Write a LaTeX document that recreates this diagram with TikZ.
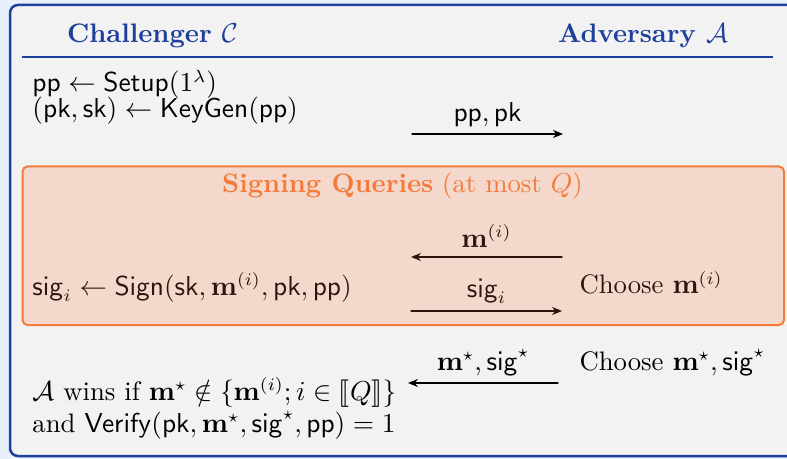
\documentclass[tikz,border=0pt]{standalone}
\usepackage{amsmath,amssymb,stmaryrd}
\usepackage{xcolor}
\definecolor{pagebg}{HTML}{E8F1FB}
\definecolor{gamebg}{HTML}{F2F2F2}
\definecolor{gameblue}{HTML}{1E3F9B}
\definecolor{queryorange}{HTML}{F47B3B}
\definecolor{querybg}{HTML}{F3D8CB}
\colorlet{querytext}{black!82!queryorange}
\usetikzlibrary{arrows.meta}
\newcommand{\alg}[1]{\mathsf{#1}}
\newcommand{\gamesize}{\fontsize{10.7}{12.8}\selectfont}

\begin{document}
\begin{tikzpicture}[x=0.4pt,y=-0.4pt,line cap=round,font=\gamesize,
  msg/.style={-{Stealth[length=4pt,width=3.2pt]},line width=0.5pt},
  role/.style={gameblue,font=\gamesize\bfseries,anchor=base,inner sep=0pt},
  txt/.style={anchor=base west,inner sep=0pt},
  lbl/.style={anchor=base,inner sep=0pt}]
  % page and game frame (frame runs past the right edge)
  \useasboundingbox (0,0) rectangle (787,459);
  \fill[pagebg] (0,0) rectangle (787,459);
  \begin{scope}
    \clip (0,0) rectangle (787,459);
    \draw[gameblue,fill=gamebg,line width=1pt,rounded corners=3.2pt]
      (10,5) rectangle (820,456);
  \end{scope}
  % header
  \node[role] (chal) at (152.5,43) {Challenger $\mathcal{C}$};
  \node[role] (adv) at (643,43) {Adversary $\mathcal{A}$};
  \draw[gameblue,line width=0.8pt,line cap=butt] (22,57) -- (773,57);
  % setup phase
  \node[txt] (setup) at (32,92) {$\alg{pp} \leftarrow \alg{Setup}(1^\lambda)$};
  \node[txt] (keygen) at (32,118) {$(\alg{pk},\alg{sk}) \leftarrow \alg{KeyGen}(\alg{pp})$};
  \coordinate (ppfrom) at (412,134);
  \coordinate (ppto) at (563,134);
  \draw[msg] (ppfrom) -- (ppto);
  \node[lbl] (pplbl) at (487.5,122) {$\alg{pp},\alg{pk}$};
  % signing queries
  \draw[queryorange,fill=querybg,line width=0.8pt,rounded corners=2pt]
    (22.5,166.5) rectangle (784,325);
  \node[lbl,queryorange] (qtitle) at (402.5,193)
    {\textbf{Signing Queries} (at most $Q$)};
  \coordinate (mfrom) at (562,257);
  \coordinate (mto) at (411,257);
  \draw[msg,querytext] (mfrom) -- (mto);
  \node[lbl,querytext] (mlbl) at (486.5,247) {$\mathbf{m}^{(i)}$};
  \node[txt,querytext] (sign) at (32,295)
    {$\alg{sig}_i \leftarrow \alg{Sign}(\alg{sk},\mathbf{m}^{(i)},\alg{pk},\alg{pp})$};
  \node[txt,querytext] (choosem) at (579,294) {Choose $\mathbf{m}^{(i)}$};
  \coordinate (sfrom) at (411,311);
  \coordinate (sto) at (562,311);
  \draw[msg,querytext] (sfrom) -- (sto);
  \node[lbl,querytext] (slbl) at (486.5,297) {$\alg{sig}_i$};
  % forgery
  \node[txt] (choosef) at (579,370) {Choose $\mathbf{m}^\star,\alg{sig}^\star$};
  \coordinate (ffrom) at (558,383);
  \coordinate (fto) at (408,383);
  \draw[msg] (ffrom) -- (fto);
  \node[lbl] (flbl) at (483,370) {$\mathbf{m}^\star,\alg{sig}^\star$};
  \node[txt] (wins) at (32,400)
    {$\mathcal{A}$ wins if $\mathbf{m}^\star \notin \{\mathbf{m}^{(i)}; i \in \llbracket Q \rrbracket\}$};
  \node[txt] (verify) at (32,432)
    {and $\alg{Verify}(\alg{pk},\mathbf{m}^\star,\alg{sig}^\star,\alg{pp}) = 1$};
\end{tikzpicture}
\end{document}
